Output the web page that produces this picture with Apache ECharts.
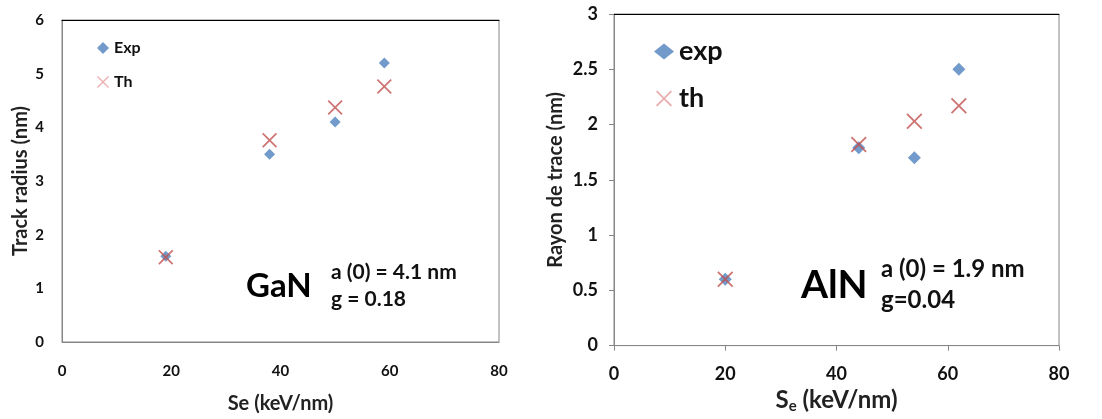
<!DOCTYPE html>
<html><head><meta charset="utf-8">
<script src="https://cdn.jsdelivr.net/npm/echarts@6/dist/echarts.min.js"></script>
<style>html,body{margin:0;padding:0;background:#fff}#c{width:1102px;height:419px}</style>
</head><body><div id="c"></div>
<script>
// GaN panel
const ganSeExp = [19, 38, 50, 59];
const ganExp = [1.6, 3.5, 4.1, 5.2];
const ganSeTh = [19, 38, 50, 59];
const ganTh = [1.58, 3.76, 4.37, 4.76];
// AlN panel
const alnSeExp = [20, 44, 54, 62];
const alnExp = [0.6, 1.79, 1.7, 2.5];
const alnSeTh = [20, 44, 54, 62];
const alnTh = [0.6, 1.82, 2.03, 2.17];
// ticks
const xTicks = [0, 20, 40, 60, 80];
const ganYTicks = [0, 1, 2, 3, 4, 5, 6];
const alnYTicks = [0, 0.5, 1, 1.5, 2, 2.5, 3];

const FONT = 'Lato, "Open Sans", sans-serif';
const BLUE = '#4F81BD', RED = '#C0504D', GRAY = '#868686', PINK = '#E39A98';
const XPATH = 'path://M0,0.8L0.8,0L5,4.2L9.2,0L10,0.8L5.8,5L10,9.2L9.2,10L5,5.8L0.8,10L0,9.2L4.2,5Z';
const zip = (a, b) => a.map((v, i) => [v, b[i]]);

const chart = echarts.init(document.getElementById('c'), null, {renderer: 'canvas'});
const axisCommon = {
  axisLine: {show: true, lineStyle: {color: GRAY, width: 1}},
  splitLine: {show: false},
};
chart.setOption({
  animation: false,
  grid: [
    {left: 62, top: 20, width: 437, height: 329, show: true, borderColor: GRAY, borderWidth: 1},
    {left: 614, top: 14, width: 445, height: 336, show: true, borderColor: GRAY, borderWidth: 1}
  ],
  xAxis: [
    Object.assign({}, axisCommon, {gridIndex: 0, type: 'value', min: xTicks[0], max: xTicks[xTicks.length-1], interval: 20,
      axisTick: {show: false},
      axisLabel: {fontFamily: FONT, fontSize: 15, fontWeight: 'bold', color: '#111', margin: 22},
      name: 'Se (keV/nm)', nameLocation: 'middle', nameGap: 52,
      nameTextStyle: {fontFamily: FONT, fontSize: 20, fontWeight: 'bold', color: '#222'}}),
    {gridIndex: 0, type: 'value', position: 'top', min: 0, max: 80, axisLine: {show: true, lineStyle: {color: '#000'}}, axisTick: {show: false}, axisLabel: {show: false}, splitLine: {show: false}},
    Object.assign({}, axisCommon, {gridIndex: 1, type: 'value', min: xTicks[0], max: xTicks[xTicks.length-1], interval: 20,
      axisTick: {show: true, length: 5, lineStyle: {color: GRAY}},
      axisLabel: {fontFamily: FONT, fontSize: 18, fontWeight: 'bold', color: '#111', margin: 20},
      name: '{b|S}{s|e}{b| (keV/nm)}', nameLocation: 'middle', nameGap: 30,
      nameTextStyle: {rich: {
        b: {fontFamily: FONT, fontSize: 24, fontWeight: 'bold', color: '#222'},
        s: {fontFamily: FONT, fontSize: 15, fontWeight: 'bold', color: '#222', padding: [12, 0, 0, 0]}
      }}}),
    {gridIndex: 1, type: 'value', position: 'top', min: 0, max: 80, axisLine: {show: true, lineStyle: {color: '#000'}}, axisTick: {show: false}, axisLabel: {show: false}, splitLine: {show: false}}
  ],
  yAxis: [
    Object.assign({}, axisCommon, {gridIndex: 0, type: 'value', min: ganYTicks[0], max: ganYTicks[ganYTicks.length-1], interval: 1,
      axisTick: {show: false},
      axisLabel: {fontFamily: FONT, fontSize: 15, fontWeight: 'bold', color: '#111', margin: 18, formatter: v => String(v)},
      name: 'Track radius (nm)', nameLocation: 'middle', nameGap: 31, nameRotate: 90,
      nameTextStyle: {fontFamily: FONT, fontSize: 20, fontWeight: 'bold', color: '#222'}}),
    Object.assign({}, axisCommon, {gridIndex: 1, type: 'value', min: alnYTicks[0], max: alnYTicks[alnYTicks.length-1], interval: 0.5,
      axisTick: {show: true, length: 5, lineStyle: {color: GRAY}},
      axisLabel: {fontFamily: FONT, fontSize: 18, fontWeight: 'bold', color: '#111', margin: 16, formatter: v => String(v)},
      name: 'Rayon de trace (nm)', nameLocation: 'middle', nameGap: 48, nameRotate: 90,
      nameTextStyle: {fontFamily: FONT, fontSize: 20, fontWeight: 'bold', color: '#222'}})
  ],
  legend: [
    {orient: 'vertical', left: 92, top: 35, itemWidth: 12, itemHeight: 12, itemGap: 18,
      textStyle: {fontFamily: FONT, fontSize: 16, fontWeight: 'bold', color: '#111'},
      data: [{name: 'Exp', icon: 'diamond'}, {name: 'Th', icon: XPATH, itemStyle: {color: PINK}}]},
    {orient: 'vertical', left: 649, top: 33, itemWidth: 20, itemHeight: 16, itemGap: 20,
      textStyle: {fontFamily: FONT, fontSize: 27, fontWeight: 'bold', color: '#111'},
      data: [{name: 'exp', icon: 'diamond'}, {name: 'th', icon: XPATH, itemStyle: {color: PINK}}]}
  ],
  graphic: [
    {type: 'text', left: 246, top: 270, style: {text: 'GaN', fontFamily: FONT, fontSize: 33, fontWeight: 'bold', fill: '#000'}},
    {type: 'text', left: 331, top: 262, style: {text: 'a (0) = 4.1 nm', fontFamily: FONT, fontSize: 21, fontWeight: 'bold', fill: '#111'}},
    {type: 'text', left: 331, top: 289, style: {text: 'g = 0.18', fontFamily: FONT, fontSize: 21, fontWeight: 'bold', fill: '#111'}},
    {type: 'text', left: 801, top: 266, style: {text: 'AlN', fontFamily: FONT, fontSize: 39, fontWeight: 'bold', fill: '#000'}},
    {type: 'text', left: 881, top: 257, style: {text: 'a (0) = 1.9 nm', fontFamily: FONT, fontSize: 24, fontWeight: 'bold', fill: '#111'}},
    {type: 'text', left: 881, top: 288, style: {text: 'g=0.04', fontFamily: FONT, fontSize: 24, fontWeight: 'bold', fill: '#111'}}
  ],
  series: [
    {name: 'Exp', type: 'scatter', xAxisIndex: 0, yAxisIndex: 0, symbol: 'diamond', symbolSize: 11, itemStyle: {color: BLUE}, data: zip(ganSeExp, ganExp), z: 2},
    {name: 'Th', type: 'scatter', xAxisIndex: 0, yAxisIndex: 0, symbol: XPATH, symbolSize: 15, itemStyle: {color: RED}, data: zip(ganSeTh, ganTh), z: 3},
    {name: 'exp', type: 'scatter', xAxisIndex: 2, yAxisIndex: 1, symbol: 'diamond', symbolSize: 13, itemStyle: {color: BLUE}, data: zip(alnSeExp, alnExp), z: 2},
    {name: 'th', type: 'scatter', xAxisIndex: 2, yAxisIndex: 1, symbol: XPATH, symbolSize: 16, itemStyle: {color: RED}, data: zip(alnSeTh, alnTh), z: 3}
  ]
});
</script></body></html>
